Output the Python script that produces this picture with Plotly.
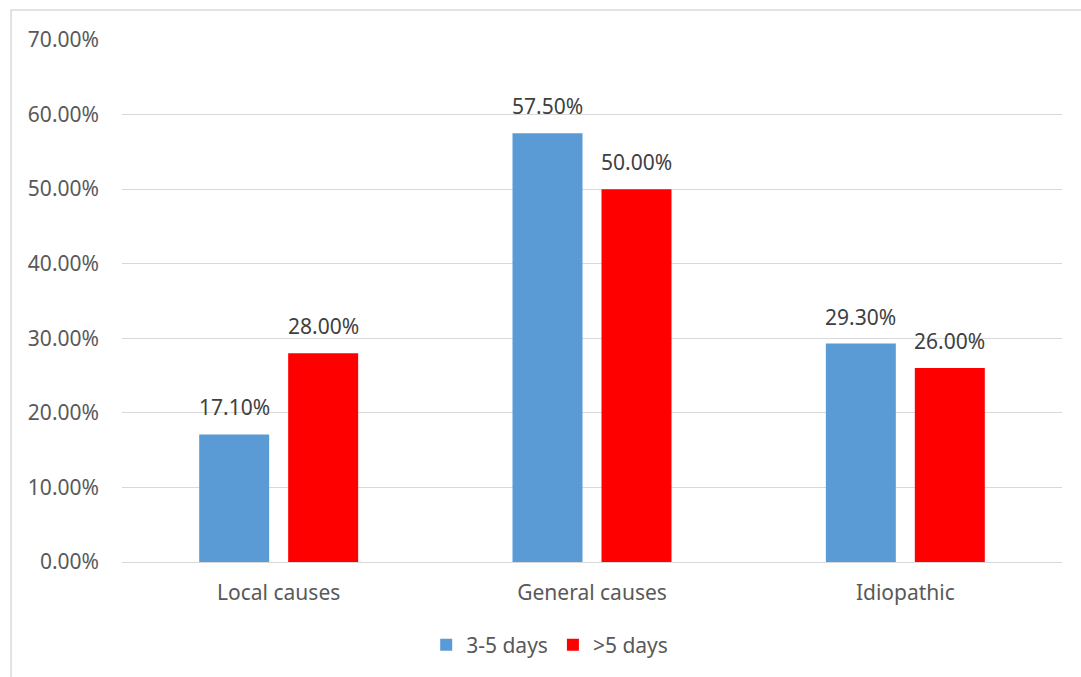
import plotly.graph_objects as go

categories = ["Local causes", "General causes", "Idiopathic"]
series_names = ["3-5 days", ">5 days"]
days_3_5 = [0.171, 0.575, 0.293]
days_over_5 = [0.28, 0.50, 0.26]
y_ticks = [0, 0.1, 0.2, 0.3, 0.4, 0.5, 0.6, 0.7]

colors = ["#5B9BD5", "#FF0000"]
font_family = "Noto Sans"
text_color = "#595959"
grid_color = "#D9D9D9"
fs = 21

fig = go.Figure()
for name, vals, col in zip(series_names, [days_3_5, days_over_5], colors):
    fig.add_trace(go.Bar(
        x=categories, y=vals, name=name,
        marker=dict(color=col, line=dict(width=0)),
        hoverinfo="skip",
    ))

# value labels above each bar
offsets = [-44.5, 44.5]
for vals, dx in zip([days_3_5, days_over_5], offsets):
    for cat, v in zip(categories, vals):
        fig.add_annotation(
            x=cat, y=v, xref="x", yref="y",
            text=f"{v:.2%}", showarrow=False,
            xshift=dx, yshift=27, yanchor="middle",
            font=dict(family=font_family, size=fs, color="#404040"),
        )

# chart frame
fig.add_shape(
    type="rect", xref="paper", yref="paper",
    x0=-0.118, x1=1.2, y0=-0.3, y1=1.0575,
    line=dict(color=grid_color, width=1.5), fillcolor="rgba(0,0,0,0)",
    layer="below",
)

fig.update_layout(
    width=1081, height=677,
    margin=dict(l=122, r=19, t=40, b=115),
    paper_bgcolor="white", plot_bgcolor="white",
    barmode="group", bargap=0.432, bargroupgap=0.2135,
    font=dict(family=font_family, size=fs, color=text_color),
    showlegend=True,
    legend=dict(
        orientation="h", x=0.455, xanchor="center", y=-0.159, yanchor="middle",
        font=dict(family=font_family, size=fs, color=text_color),
        itemclick=False, itemdoubleclick=False,
    ),
    xaxis=dict(
        showgrid=False, showline=False, ticks="",
        tickfont=dict(family=font_family, size=fs, color=text_color),
        ticklabelstandoff=16,
    ),
    yaxis=dict(
        range=[0, 0.7], tickvals=y_ticks, tickformat=".2%",
        showgrid=True, gridcolor=grid_color, gridwidth=1.3,
        zeroline=True, zerolinecolor=grid_color, zerolinewidth=1.3,
        showline=False, ticks="",
        tickfont=dict(family=font_family, size=fs, color=text_color),
        ticklabelstandoff=22,
    ),
)

fig.write_html("out.html")
